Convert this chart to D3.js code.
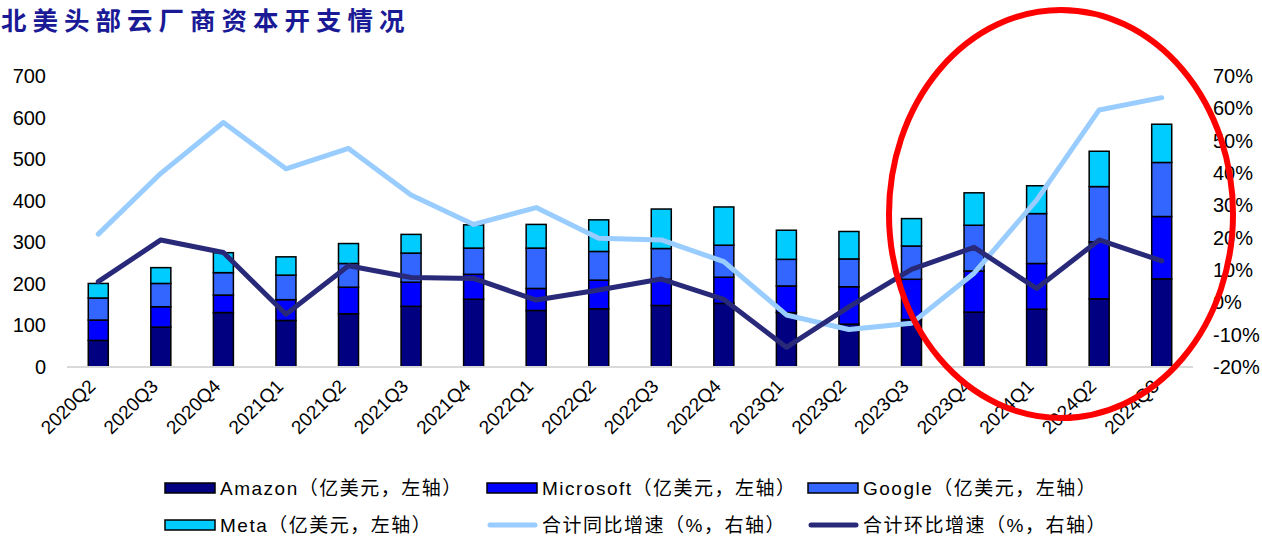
<!DOCTYPE html>
<html>
<head>
<meta charset="utf-8">
<script src="https://cdnjs.cloudflare.com/ajax/libs/d3/7.8.5/d3.min.js"></script>
<style>
  body { margin: 0; background: #fff; }
  svg { display: block; font-family: "Liberation Sans", Arial, "Noto Sans CJK SC", sans-serif; }
</style>
</head>
<body>
<div id="container"></div>
<script>
// quarters on the x axis
var quarters = ["2020Q2","2020Q3","2020Q4","2021Q1","2021Q2","2021Q3","2021Q4","2022Q1","2022Q2",
                "2022Q3","2022Q4","2023Q1","2023Q2","2023Q3","2023Q4","2024Q1","2024Q2","2024Q3"];

// capex, 亿美元 (left axis)
var amazon    = [64, 96, 131, 112, 128, 146, 163, 136, 140, 148, 153, 131, 103, 114, 132, 139, 164, 212];
var microsoft = [49, 49, 42, 50, 64, 58, 60, 53, 69, 63, 63, 64, 90, 97, 99, 110, 137, 150];
var google    = [53, 56, 54, 59, 57, 70, 63, 97, 69, 74, 77, 64, 67, 80, 110, 120, 133, 130];
var meta      = [35, 38, 48, 44, 48, 45, 56, 57, 76, 95, 92, 70, 66, 66, 78, 67, 85, 92];

// growth, % (right axis)
var yoy = [21.1, 39.9, 55.6, 41.3, 47.6, 33.2, 24.1, 29.3, 19.8, 19.3, 12.6, -3.9, -8.4, -6.5, 9.0, 31.6, 59.5, 63.3];
var qoq = [6.4, 19.3, 15.4, -3.7, 11.3, 7.7, 7.4, 0.7, 3.8, 7.2, 0.9, -13.9, -1.4, 10.2, 17.0, 4.3, 19.3, 12.8];

var leftTicks = [0, 100, 200, 300, 400, 500, 600, 700];
var rightTicks = [-20, -10, 0, 10, 20, 30, 40, 50, 60, 70];

var seriesNames = ["Amazon", "Microsoft", "Google", "Meta"];
var seriesColors = ["#000080", "#0000ff", "#3366ff", "#00ccff"];

var width = 1262, height = 537;
var plot = {left: 67, right: 1193, top: 76, bottom: 367};

var svg = d3.select("#container").append("svg")
    .attr("width", width)
    .attr("height", height);

// title
svg.append("text")
    .attr("x", 1)
    .attr("y", 30)
    .style("font-family", "'Noto Sans CJK SC', sans-serif")
    .style("font-size", "25.5px")
    .style("font-weight", "bold")
    .style("letter-spacing", "6px")
    .style("fill", "#1a1a96")
    .text("北美头部云厂商资本开支情况");

// scales
var x = d3.scaleBand().domain(quarters).range([plot.left, plot.right]).paddingInner(0.68).paddingOuter(0.34);
var y = d3.scaleLinear().domain([0, 700]).range([plot.bottom, plot.top]);
var y2 = d3.scaleLinear().domain([-20, 70]).range([plot.bottom, plot.top]);

// stack the four companies
var rows = quarters.map(function(q, i) {
    return {q: q, Amazon: amazon[i], Microsoft: microsoft[i], Google: google[i], Meta: meta[i]};
});
var stacked = d3.stack().keys(seriesNames)(rows);

svg.append("g").selectAll("g")
    .data(stacked).enter()
    .append("g")
    .attr("fill", function(d, i) { return seriesColors[i]; })
    .selectAll("rect")
    .data(function(d) { return d; }).enter()
    .append("rect")
    .attr("x", function(d) { return x(d.data.q); })
    .attr("y", function(d) { return y(d[1]); })
    .attr("width", x.bandwidth())
    .attr("height", function(d) { return y(d[0]) - y(d[1]); })
    .attr("stroke", "#000")
    .attr("stroke-width", 1.5);

// x axis baseline
svg.append("line")
    .attr("x1", plot.left).attr("x2", plot.right)
    .attr("y1", y(0)).attr("y2", y(0))
    .attr("stroke", "#d9d9d9")
    .attr("stroke-width", 2);

// lines
var line = d3.line()
    .x(function(d, i) { return x(quarters[i]) + x.bandwidth() / 2; })
    .y(function(d) { return y2(d); });

svg.append("path")
    .attr("d", line(yoy))
    .attr("fill", "none")
    .attr("stroke", "#99ccff")
    .attr("stroke-width", 5)
    .attr("stroke-linecap", "round")
    .attr("stroke-linejoin", "round");

svg.append("path")
    .attr("d", line(qoq))
    .attr("fill", "none")
    .attr("stroke", "#29297a")
    .attr("stroke-width", 5)
    .attr("stroke-linecap", "round")
    .attr("stroke-linejoin", "round");

// left axis labels
svg.append("g").selectAll("text")
    .data(leftTicks).enter()
    .append("text")
    .attr("x", 46)
    .attr("y", function(d) { return y(d); })
    .attr("dy", "0.35em")
    .attr("text-anchor", "end")
    .style("font-size", "20px")
    .style("fill", "#000")
    .text(function(d) { return d; });

// right axis labels
svg.append("g").selectAll("text")
    .data(rightTicks).enter()
    .append("text")
    .attr("x", 1213)
    .attr("y", function(d) { return y2(d); })
    .attr("dy", "0.35em")
    .attr("text-anchor", "start")
    .style("font-size", "20px")
    .style("fill", "#000")
    .text(function(d) { return d + "%"; });

// x labels, rotated
svg.append("g").selectAll("text")
    .data(quarters).enter()
    .append("text")
    .attr("transform", function(d) {
        return "translate(" + (x(d) + x.bandwidth() / 2 - 11) + "," + 378 + ") rotate(-45)";
    })
    .attr("dy", "0.7em")
    .attr("text-anchor", "end")
    .style("font-size", "19px")
    .style("fill", "#000")
    .text(function(d) { return d; });

// legend
var legendItems = [
    {label: "Amazon（亿美元，左轴）", type: "bar", color: seriesColors[0], x: 165, y: 488},
    {label: "Microsoft（亿美元，左轴）", type: "bar", color: seriesColors[1], x: 487, y: 488},
    {label: "Google（亿美元，左轴）", type: "bar", color: seriesColors[2], x: 808, y: 488},
    {label: "Meta（亿美元，左轴）", type: "bar", color: seriesColors[3], x: 165, y: 525},
    {label: "合计同比增速（%，右轴）", type: "line", color: "#99ccff", x: 487, y: 525},
    {label: "合计环比增速（%，右轴）", type: "line", color: "#29297a", x: 808, y: 525}
];

var legend = svg.append("g").selectAll("g")
    .data(legendItems).enter()
    .append("g")
    .attr("transform", function(d) { return "translate(" + d.x + "," + d.y + ")"; });

legend.filter(function(d) { return d.type == "bar"; })
    .append("rect")
    .attr("x", 0).attr("y", -5)
    .attr("width", 50).attr("height", 10)
    .attr("fill", function(d) { return d.color; })
    .attr("stroke", "#000")
    .attr("stroke-width", 1.5);

legend.filter(function(d) { return d.type == "line"; })
    .append("line")
    .attr("x1", 3).attr("x2", 48)
    .attr("y1", 0).attr("y2", 0)
    .attr("stroke", function(d) { return d.color; })
    .attr("stroke-width", 5)
    .attr("stroke-linecap", "round");

legend.append("text")
    .attr("x", 55)
    .attr("dy", "0.35em")
    .style("font-size", "19px")
    .style("letter-spacing", "1.5px")
    .style("fill", "#000")
    .text(function(d) { return d.label; });

// red highlight ellipse
svg.append("ellipse")
    .attr("cx", 1061)
    .attr("cy", 214)
    .attr("rx", 172)
    .attr("ry", 204)
    .attr("fill", "none")
    .attr("stroke", "#ff0000")
    .attr("stroke-width", 6);
</script>
</body>
</html>
